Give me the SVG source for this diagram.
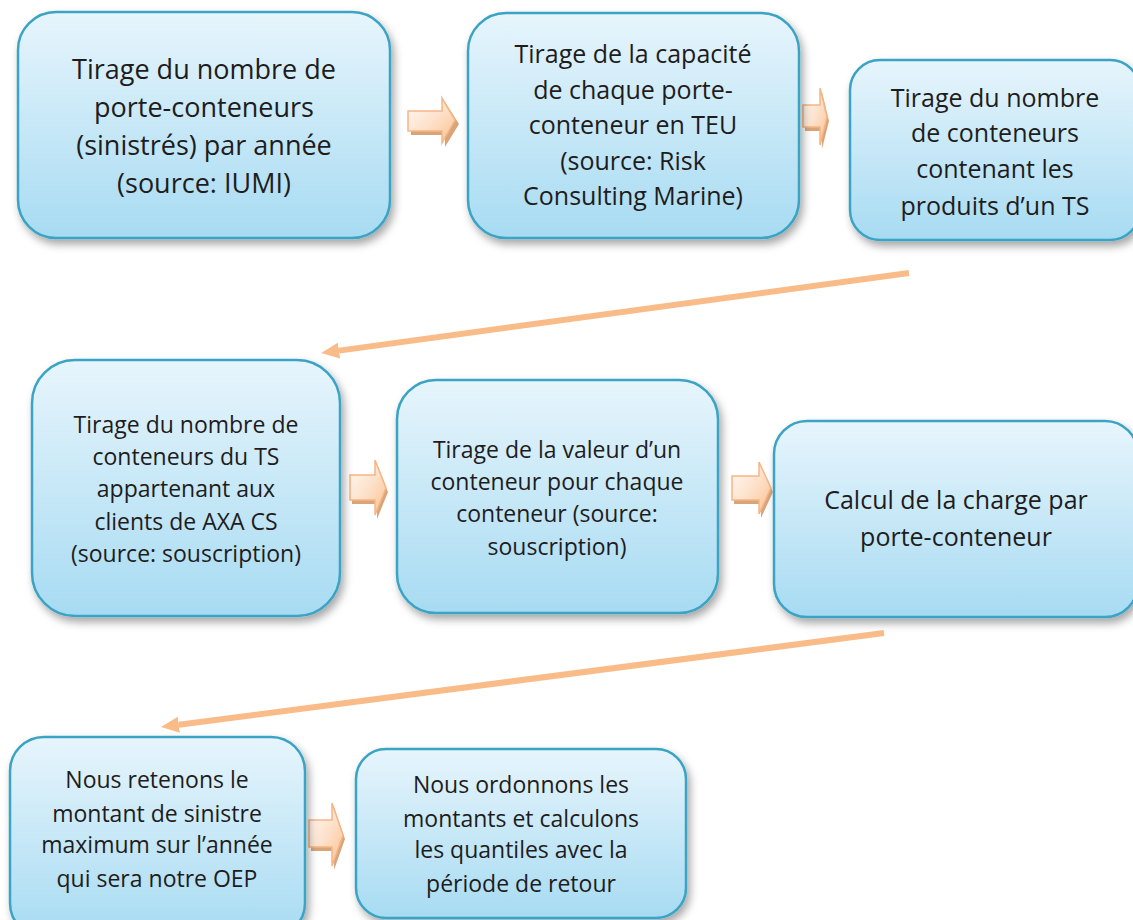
<svg xmlns="http://www.w3.org/2000/svg" width="1133" height="920" viewBox="0 0 1133 920">
<defs>
<linearGradient id="boxGrad" x1="0" y1="0" x2="0" y2="1">
<stop offset="0" stop-color="#e7f5fc"/>
<stop offset="1" stop-color="#a7dbf2"/>
</linearGradient>
<linearGradient id="arrGrad" x1="0" y1="0" x2="1" y2="1">
<stop offset="0" stop-color="#fffaf6"/>
<stop offset="0.5" stop-color="#fde2cc"/>
<stop offset="1" stop-color="#fbc18f"/>
</linearGradient>
<filter id="shadow" x="-10%" y="-10%" width="125%" height="130%">
<feDropShadow dx="3" dy="5" stdDeviation="4" flood-color="#000" flood-opacity="0.35"/>
</filter>
<marker id="head" viewBox="0 0 18 16" refX="0" refY="8" markerWidth="18" markerHeight="16" markerUnits="userSpaceOnUse" orient="auto">
<path d="M0,0 L18,8 L0,16 Z" fill="#f9bc88"/>
</marker>
</defs>
<style>
.box{fill:url(#boxGrad);stroke:#3aa3c3;stroke-width:2.5;filter:url(#shadow);}
.t{font-family:"Open Sans","Noto Sans",sans-serif;fill:#1f1c1d;text-anchor:middle;}
.f27{font-size:27px;}
.f25{font-size:25px;}
.f23{font-size:23px;}
.ext{fill:#d8a57a;}
.face{fill:url(#arrGrad);stroke:#f7b583;stroke-width:1.5;}
.conn{fill:none;stroke:#f9bc88;stroke-width:6;marker-end:url(#head);}
</style>
<rect width="1133" height="920" fill="#ffffff"/>

<g id="connectors">
<line class="conn" x1="909" y1="273" x2="339" y2="350.6"/>
<line class="conn" x1="884" y1="633" x2="178.8" y2="724.7"/>
<g id="arrow1">
<path class="ext" d="M411,115 L445,115 L445,102 L459,124 L445,147 L445,135 L411,135 Z"/>
<path class="face" d="M408,111 L442,111 L442,98 L455,120 L442,143 L442,131 L408,131 Z"/>
</g>
<g id="arrow2">
<path class="ext" d="M805,109 L822,109 L822,92 L829,121 L822,149 L822,131 L805,131 Z"/>
<path class="face" d="M803,105 L820,105 L820,88 L827,117 L820,145 L820,127 L803,127 Z"/>
</g>
<g id="arrow3">
<path class="ext" d="M352,479 L377,479 L377,464 L388,492 L377,519 L377,504 L352,504 Z"/>
<path class="face" d="M350,475 L375,475 L375,460 L386,488 L375,515 L375,500 L350,500 Z"/>
</g>
<g id="arrow4">
<path class="ext" d="M734,480 L761,480 L761,466 L773,492 L761,518 L761,504 L734,504 Z"/>
<path class="face" d="M732,476 L759,476 L759,462 L771,488 L759,514 L759,500 L732,500 Z"/>
</g>
<g id="arrow5">
<path class="ext" d="M311,824 L334,824 L334,807 L345,839 L334,870 L334,851 L311,851 Z"/>
<path class="face" d="M309,820 L332,820 L332,803 L343,835 L332,866 L332,847 L309,847 Z"/>
</g>
</g>

<g id="node1">
<rect class="box" x="18" y="12" width="372" height="226" rx="38" ry="38"/>
<text class="t f27" x="204" y="79">Tirage du nombre de</text>
<text class="t f27" x="204" y="117">porte-conteneurs</text>
<text class="t f27" x="204" y="155">(sinistrés) par année</text>
<text class="t f27" x="204" y="193">(source: IUMI)</text>
</g>

<g id="node2">
<rect class="box" x="468" y="13" width="331" height="225" rx="38" ry="38"/>
<text class="t f25" x="633" y="63">Tirage de la capacité</text>
<text class="t f25" x="633" y="99">de chaque porte-</text>
<text class="t f25" x="633" y="134">conteneur en TEU</text>
<text class="t f25" x="633" y="170">(source: Risk</text>
<text class="t f25" x="633" y="205">Consulting Marine)</text>
</g>

<g id="node3">
<rect class="box" x="850" y="60" width="290" height="180" rx="30" ry="30"/>
<text class="t f25" x="995" y="107">Tirage du nombre</text>
<text class="t f25" x="995" y="142">de conteneurs</text>
<text class="t f25" x="995" y="178">contenant les</text>
<text class="t f25" x="995" y="215">produits d’un TS</text>
</g>

<g id="node4">
<rect class="box" x="32" y="360" width="308" height="256" rx="43" ry="43"/>
<text class="t f23" x="186" y="433">Tirage du nombre de</text>
<text class="t f23" x="186" y="465">conteneurs du TS</text>
<text class="t f23" x="186" y="497">appartenant aux</text>
<text class="t f23" x="186" y="530">clients de AXA CS</text>
<text class="t f23" x="186" y="562">(source: souscription)</text>
</g>

<g id="node5">
<rect class="box" x="397" y="380" width="321" height="233" rx="39" ry="39"/>
<text class="t f23" x="557" y="458">Tirage de la valeur d’un</text>
<text class="t f23" x="557" y="490">conteneur pour chaque</text>
<text class="t f23" x="557" y="522">conteneur (source:</text>
<text class="t f23" x="557" y="555">souscription)</text>
</g>

<g id="node6">
<rect class="box" x="774" y="421" width="364" height="196" rx="33" ry="33"/>
<text class="t f25" x="956" y="509">Calcul de la charge par</text>
<text class="t f25" x="956" y="546">porte-conteneur</text>
</g>

<g id="node7">
<rect class="box" x="10" y="737" width="295" height="200" rx="34" ry="34"/>
<text class="t f23" x="157" y="788">Nous retenons le</text>
<text class="t f23" x="157" y="822">montant de sinistre</text>
<text class="t f23" x="157" y="853">maximum sur l’année</text>
<text class="t f23" x="157" y="887">qui sera notre OEP</text>
</g>

<g id="node8">
<rect class="box" x="356" y="749" width="330" height="169" rx="30" ry="30"/>
<text class="t f23" x="521" y="793">Nous ordonnons les</text>
<text class="t f23" x="521" y="827">montants et calculons</text>
<text class="t f23" x="521" y="858">les quantiles avec la</text>
<text class="t f23" x="521" y="892">période de retour</text>
</g>
</svg>
